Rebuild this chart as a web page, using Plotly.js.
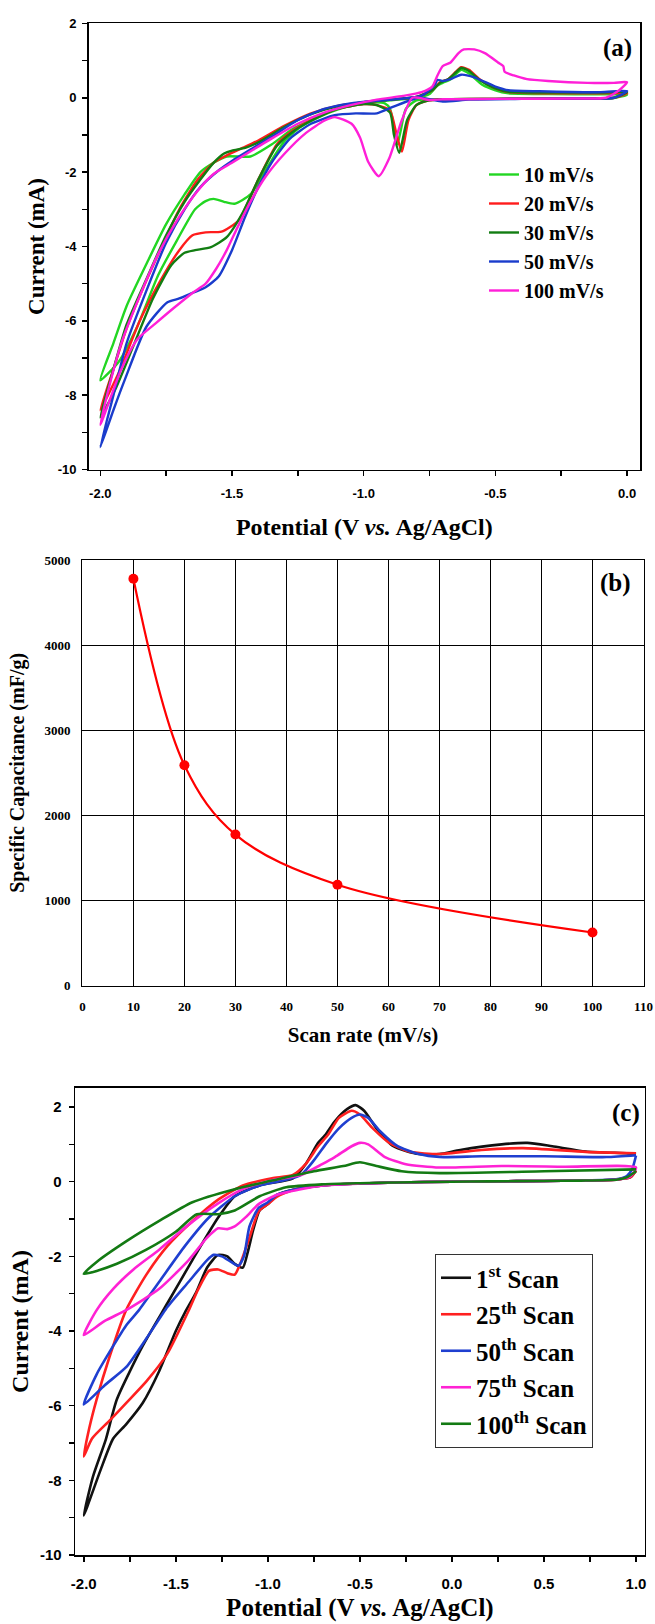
<!DOCTYPE html>
<html>
<head>
<meta charset="utf-8">
<script src="https://cdn.plot.ly/plotly-3.0.1.min.js"></script>
<style>html,body{margin:0;padding:0;background:#fff;}#chart{width:655px;height:1624px;}</style>
</head>
<body>
<div id="chart"></div>
<script>
// ---------------- Panel (a): CV at different scan rates ----------------
const aNames = ['10 mV/s', '20 mV/s', '30 mV/s', '50 mV/s', '100 mV/s'];
const aV10 = [0, -0.05, -0.2, -0.4, -0.6, -0.75, -0.8, -0.84, -0.86, -0.872, -0.885, -0.9, -0.92, -1.0, -1.1, -1.17, -1.24, -1.3, -1.36, -1.43, -1.49, -1.53, -1.57, -1.6, -1.64, -1.71, -1.78, -1.86, -1.93, -2.0,
  -1.95, -1.9, -1.82, -1.75, -1.68, -1.62, -1.57, -1.52, -1.43, -1.35, -1.27, -1.2, -1.1, -1.0, -0.9, -0.8, -0.75, -0.72, -0.7, -0.67, -0.63, -0.6, -0.55, -0.5, -0.45, -0.3, -0.1, 0];
const aI10 = [0.08, -0.01, -0.02, -0.03, -0.03, -0.05, -0.07, -0.3, -0.9, -1.25, -0.8, -0.3, -0.15, -0.13, -0.32, -0.52, -0.79, -1.16, -1.8, -2.6, -2.85, -2.8, -2.72, -2.78, -3.0, -3.85, -4.77, -6.16, -7.1, -7.6,
  -6.6, -5.6, -4.4, -3.4, -2.6, -2.0, -1.75, -1.58, -1.58, -1.26, -0.84, -0.6, -0.3, -0.16, -0.07, 0.0, 0.1, 0.33, 0.4, 0.5, 0.75, 0.65, 0.35, 0.2, 0.12, 0.1, 0.09, 0.08];
const aV20 = [0, -0.05, -0.2, -0.5, -0.7, -0.76, -0.8, -0.83, -0.855, -0.875, -0.9, -0.95, -1.0, -1.1, -1.2, -1.27, -1.33, -1.4, -1.475, -1.54, -1.6, -1.65, -1.7, -1.77, -1.85, -1.93, -2.0,
  -1.95, -1.9, -1.83, -1.76, -1.7, -1.63, -1.57, -1.52, -1.46, -1.4, -1.3, -1.2, -1.1, -1.0, -0.9, -0.8, -0.74, -0.71, -0.68, -0.65, -0.63, -0.6, -0.56, -0.5, -0.45, -0.3, -0.1, 0];
const aI20 = [0.12, 0.0, -0.02, -0.03, -0.04, -0.08, -0.2, -0.6, -1.45, -1.0, -0.35, -0.2, -0.17, -0.3, -0.6, -0.89, -1.26, -2.2, -3.3, -3.6, -3.62, -3.7, -4.1, -4.9, -6.0, -7.4, -8.4,
  -7.3, -6.2, -5.0, -3.9, -3.0, -2.2, -1.75, -1.55, -1.35, -1.15, -0.75, -0.42, -0.22, -0.12, -0.05, 0.02, 0.2, 0.42, 0.5, 0.7, 0.82, 0.75, 0.5, 0.25, 0.15, 0.12, 0.12, 0.12];
const aV30 = [0, -0.05, -0.2, -0.5, -0.7, -0.76, -0.8, -0.835, -0.865, -0.885, -0.9, -0.95, -1.0, -1.1, -1.2, -1.27, -1.33, -1.4, -1.46, -1.52, -1.58, -1.64, -1.68, -1.73, -1.8, -1.87, -1.94, -2.0,
  -1.95, -1.9, -1.82, -1.75, -1.68, -1.62, -1.57, -1.53, -1.5, -1.45, -1.4, -1.3, -1.2, -1.1, -1.0, -0.9, -0.8, -0.74, -0.71, -0.68, -0.65, -0.63, -0.6, -0.56, -0.5, -0.45, -0.3, -0.1, 0];
const aI30 = [0.15, 0.0, -0.02, -0.03, -0.04, -0.08, -0.2, -0.6, -1.48, -1.0, -0.4, -0.2, -0.17, -0.3, -0.62, -0.92, -1.3, -2.2, -3.1, -3.75, -4.02, -4.1, -4.17, -4.5, -5.4, -6.6, -7.8, -8.6,
  -7.3, -6.1, -4.8, -3.7, -2.8, -2.2, -1.75, -1.5, -1.42, -1.35, -1.2, -0.78, -0.44, -0.23, -0.12, -0.05, 0.02, 0.2, 0.4, 0.5, 0.68, 0.8, 0.72, 0.48, 0.25, 0.16, 0.14, 0.14, 0.15];
const aV50 = [0, -0.05, -0.2, -0.4, -0.6, -0.7, -0.79, -0.887, -0.95, -1.03, -1.11, -1.2, -1.28, -1.35, -1.4, -1.45, -1.5, -1.55, -1.6, -1.65, -1.7, -1.745, -1.825, -1.905, -1.95, -2.0,
  -1.95, -1.9, -1.82, -1.75, -1.68, -1.62, -1.55, -1.5, -1.42, -1.35, -1.25, -1.15, -1.05, -0.95, -0.85, -0.78, -0.73, -0.72, -0.7, -0.67, -0.63, -0.58, -0.5, -0.45, -0.3, -0.1, 0];
const aI50 = [0.18, 0.0, -0.02, -0.03, -0.05, -0.1, -0.0, -0.24, -0.42, -0.42, -0.47, -0.7, -1.1, -1.75, -2.4, -3.2, -4.1, -4.8, -5.1, -5.25, -5.4, -5.5, -6.16, -7.55, -8.4, -9.4,
  -8.0, -6.6, -5.1, -3.9, -3.0, -2.4, -1.95, -1.7, -1.35, -1.05, -0.6, -0.3, -0.15, -0.08, -0.02, 0.05, 0.35, 0.48, 0.45, 0.5, 0.62, 0.55, 0.3, 0.2, 0.17, 0.15, 0.18];
const aV100 = [0, -0.03, -0.08, -0.2, -0.5, -0.7, -0.75, -0.815, -0.855, -0.903, -0.943, -0.983, -1.014, -1.046, -1.11, -1.15, -1.22, -1.3, -1.37, -1.43, -1.48, -1.52, -1.56, -1.6, -1.65, -1.72, -1.79, -1.86, -1.92, -2.0,
  -1.96, -1.92, -1.86, -1.78, -1.7, -1.63, -1.57, -1.5, -1.42, -1.35, -1.25, -1.15, -1.05, -0.95, -0.85, -0.78, -0.74, -0.72, -0.7, -0.67, -0.64, -0.62, -0.58, -0.54, -0.49, -0.47, -0.465, -0.43, -0.38, -0.3, -0.15, -0.05, 0];
const aI100 = [0.42, 0.2, 0.0, -0.02, -0.03, -0.04, -0.06, -0.0, -0.6, -1.63, -2.11, -1.72, -1.07, -0.7, -0.52, -0.62, -0.95, -1.5, -2.1, -2.8, -3.5, -4.1, -4.6, -5.0, -5.25, -5.65, -6.07, -6.5, -7.3, -8.8,
  -7.6, -6.6, -5.5, -4.2, -3.2, -2.5, -2.05, -1.75, -1.4, -1.1, -0.7, -0.4, -0.2, -0.05, 0.05, 0.15, 0.3, 0.6, 0.85, 0.95, 1.2, 1.3, 1.3, 1.2, 0.95, 0.85, 0.7, 0.6, 0.5, 0.45, 0.4, 0.4, 0.42];
const aColors = ['#22d622', '#ff1c1c', '#127d12', '#1a3ccc', '#ff1fd8'];
const aXTicks = [-2.0, -1.5, -1.0, -0.5, 0.0];
const aXTickText = ['-2.0', '-1.5', '-1.0', '-0.5', '0.0'];
const aYTicks = [-10, -8, -6, -4, -2, 0, 2];
const aYTickText = ['-10', '-8', '-6', '-4', '-2', '0', '2'];

// ---------------- Panel (b): specific capacitance ----------------
const bScanRate = [10, 20, 30, 50, 100];
const bCapacitance = [4780, 2590, 1775, 1185, 625];

// ---------------- Panel (c): cycling ----------------
const cNames = ['1<sup>st</sup> Scan', '25<sup>th</sup> Scan', '50<sup>th</sup> Scan', '75<sup>th</sup> Scan', '100<sup>th</sup> Scan'];
const cV1 = [1.0, 0.97, 0.9, 0.7, 0.5, 0.2, 0.0, -0.3, -0.5, -0.7, -0.85, -0.95, -1.0, -1.045, -1.08, -1.11, -1.136, -1.18, -1.22, -1.27, -1.33, -1.39, -1.45, -1.5, -1.59, -1.68, -1.77, -1.84, -1.91, -2.0,
  -1.95, -1.88, -1.82, -1.68, -1.545, -1.41, -1.27, -1.18, -1.045, -0.864, -0.795, -0.727, -0.69, -0.636, -0.568, -0.523, -0.477, -0.41, -0.318, -0.18, -0.068, 0.045, 0.27, 0.41, 0.545, 0.727, 0.955, 1.0];
const cI1 = [0.3, 0.12, 0.06, 0.03, 0.02, 0.01, 0.0, -0.02, -0.05, -0.1, -0.2, -0.35, -0.6, -0.77, -1.3, -1.9, -2.3, -2.2, -2.0, -1.96, -2.3, -2.97, -3.5, -4.0, -5.07, -5.93, -6.5, -6.88, -7.74, -8.94,
  -7.9, -6.9, -5.83, -4.4, -3.25, -2.1, -0.96, -0.39, -0.1, 0.09, 0.47, 1.04, 1.24, 1.62, 1.95, 2.05, 1.9, 1.43, 0.95, 0.74, 0.74, 0.85, 1.0, 1.04, 0.95, 0.81, 0.76, 0.74];
const cV25 = [1.0, 0.97, 0.9, 0.7, 0.5, 0.2, 0.0, -0.3, -0.5, -0.7, -0.85, -0.95, -1.0, -1.05, -1.1, -1.15, -1.18, -1.22, -1.27, -1.32, -1.38, -1.43, -1.545, -1.66, -1.77, -1.86, -1.955, -2.0,
  -1.97, -1.93, -1.86, -1.77, -1.66, -1.545, -1.41, -1.27, -1.136, -0.977, -0.864, -0.795, -0.727, -0.67, -0.614, -0.545, -0.5, -0.43, -0.34, -0.227, -0.068, 0.16, 0.386, 0.727, 1.0];
const cI25 = [0.3, 0.12, 0.06, 0.03, 0.02, 0.01, 0.0, -0.02, -0.05, -0.1, -0.2, -0.4, -0.6, -0.8, -1.5, -2.2, -2.49, -2.45, -2.35, -2.39, -2.9, -3.45, -4.6, -5.35, -5.93, -6.4, -6.88, -7.36,
  -6.6, -5.83, -4.69, -3.44, -2.49, -1.72, -1.06, -0.48, -0.1, 0.09, 0.18, 0.47, 0.95, 1.28, 1.71, 1.9, 1.8, 1.43, 1.04, 0.8, 0.74, 0.85, 0.9, 0.8, 0.76];
const cV50 = [1.0, 0.98, 0.95, 0.9, 0.7, 0.5, 0.2, 0.0, -0.3, -0.5, -0.7, -0.85, -0.95, -1.0, -1.05, -1.1, -1.13, -1.16, -1.2, -1.25, -1.295, -1.33, -1.43, -1.545, -1.66, -1.77, -1.886, -2.0,
  -1.93, -1.84, -1.77, -1.7, -1.59, -1.45, -1.32, -1.18, -1.045, -0.91, -0.82, -0.75, -0.68, -0.614, -0.545, -0.5, -0.455, -0.386, -0.295, -0.18, -0.068, 0.16, 0.5, 0.84, 1.0];
const cI50 = [0.7, 0.35, 0.15, 0.07, 0.03, 0.02, 0.01, 0.0, -0.02, -0.05, -0.1, -0.2, -0.35, -0.55, -0.7, -1.2, -2.0, -2.25, -2.15, -2.0, -1.96, -2.1, -2.68, -3.35, -4.2, -4.97, -5.45, -5.97,
  -5.16, -4.4, -3.85, -3.44, -2.68, -1.72, -0.96, -0.39, -0.1, 0.04, 0.18, 0.57, 1.04, 1.43, 1.71, 1.8, 1.71, 1.33, 0.95, 0.74, 0.66, 0.68, 0.68, 0.66, 0.71];
const cV75 = [1.0, 0.97, 0.9, 0.7, 0.5, 0.2, 0.0, -0.3, -0.5, -0.7, -0.8, -0.95, -1.05, -1.12, -1.18, -1.22, -1.27, -1.33, -1.43, -1.59, -1.77, -1.886, -2.0,
  -1.93, -1.84, -1.73, -1.59, -1.43, -1.27, -1.136, -0.977, -0.82, -0.705, -0.636, -0.545, -0.5, -0.455, -0.364, -0.25, -0.068, 0.27, 0.61, 1.0];
const cI75 = [0.38, 0.15, 0.06, 0.03, 0.02, 0.01, 0.0, -0.02, -0.05, -0.1, -0.18, -0.35, -0.6, -0.95, -1.2, -1.27, -1.25, -1.5, -2.1, -2.87, -3.44, -3.73, -4.11,
  -3.44, -2.87, -2.35, -1.82, -1.15, -0.58, -0.2, 0.04, 0.18, 0.47, 0.66, 0.95, 1.04, 1.0, 0.66, 0.47, 0.38, 0.42, 0.4, 0.38];
const cV100 = [1.0, 0.95, 0.9, 0.7, 0.5, 0.2, 0.0, -0.3, -0.5, -0.7, -0.9, -1.045, -1.18, -1.27, -1.386, -1.5, -1.66, -1.82, -1.93, -2.0,
  -1.93, -1.77, -1.59, -1.41, -1.18, -0.977, -0.75, -0.59, -0.5, -0.41, -0.273, -0.068, 0.5, 1.0];
const cI100 = [0.28, 0.12, 0.06, 0.03, 0.02, 0.01, 0.0, -0.02, -0.04, -0.07, -0.15, -0.39, -0.77, -0.87, -0.87, -1.34, -1.82, -2.2, -2.39, -2.47,
  -2.15, -1.6, -1.05, -0.55, -0.2, 0.03, 0.28, 0.42, 0.52, 0.42, 0.28, 0.23, 0.28, 0.33];
const cColors = ['#111111', '#ff2020', '#1f3fd0', '#ff22d4', '#137a13'];
const cXTicks = [-2.0, -1.5, -1.0, -0.5, 0.0, 0.5, 1.0];
const cXTickText = ['-2.0', '-1.5', '-1.0', '-0.5', '0.0', '0.5', '1.0'];
const cYTicks = [-10, -8, -6, -4, -2, 0, 2];
const cYTickText = ['-10', '-8', '-6', '-4', '-2', '0', '2'];

// ---------------- Build ----------------
const W = 655, H = 1624;
const serif = '"Liberation Serif", "Times New Roman", serif';
const sans = '"Liberation Sans", Arial, sans-serif';
const fx = p => p / W;
const fy = p => 1 - p / H;

const aData = [[aV10, aI10], [aV20, aI20], [aV30, aI30], [aV50, aI50], [aV100, aI100]];
const cData = [[cV1, cI1], [cV25, cI25], [cV50, cI50], [cV75, cI75], [cV100, cI100]];

const traces = [];
aData.forEach((d, i) => traces.push({
  x: d[0], y: d[1], type: 'scatter', mode: 'lines', name: aNames[i],
  xaxis: 'x', yaxis: 'y', legend: 'legend', legendgroup: 'a' + i,
  line: {color: aColors[i], width: 2.4, shape: 'spline', smoothing: 0.6}
}));
traces.push({
  x: bScanRate, y: bCapacitance, type: 'scatter', mode: 'lines+markers', name: 'Specific capacitance',
  xaxis: 'x2', yaxis: 'y2', showlegend: false,
  line: {color: '#ff0000', width: 2.2, shape: 'spline', smoothing: 1},
  marker: {color: '#ff0000', size: 10}
});
cData.forEach((d, i) => traces.push({
  x: d[0], y: d[1], type: 'scatter', mode: 'lines', name: cNames[i],
  xaxis: 'x3', yaxis: 'y3', legend: 'legend2', legendgroup: 'c' + i,
  line: {color: cColors[i], width: 2.6, shape: 'spline', smoothing: 0.6}
}));

const boxAxis = {
  showline: true, mirror: true, linecolor: '#000', linewidth: 1.6,
  showgrid: false, zeroline: false, automargin: false,
  ticks: 'outside', ticklen: 5, tickwidth: 1.5, tickcolor: '#000'
};

const layout = {
  width: W, height: H,
  margin: {l: 0, r: 0, t: 0, b: 0},
  paper_bgcolor: '#fff', plot_bgcolor: '#fff',
  showlegend: true,
  // panel (a)
  xaxis: Object.assign({}, boxAxis, {
    domain: [fx(88.7), fx(640)], anchor: 'y', range: [-2.044, 0.049],
    tickmode: 'array', tickvals: aXTicks, ticktext: aXTickText,
    minor: {ticks: 'outside', dtick: 0.25, tick0: 0, ticklen: 5, tickwidth: 1.5, tickcolor: '#000'},
    tickfont: {family: sans, size: 13, color: '#000', weight: 'bold'}, ticklabelstandoff: 6,
    title: {text: 'Potential (V <i>vs.</i> Ag/AgCl)', font: {family: serif, size: 24, color: '#000', weight: 'bold'}, standoff: 18}
  }),
  yaxis: Object.assign({}, boxAxis, {
    domain: [fy(469.5), fy(23.4)], anchor: 'x', range: [-10, 2],
    tickmode: 'array', tickvals: aYTicks, ticktext: aYTickText,
    minor: {ticks: 'outside', dtick: 1, tick0: 0, ticklen: 5, tickwidth: 1.5, tickcolor: '#000'},
    tickfont: {family: sans, size: 13, color: '#000', weight: 'bold'}, ticklabelstandoff: 3,
    title: {text: 'Current (mA)', font: {family: serif, size: 23, color: '#000', weight: 'bold'}, standoff: 6}
  }),
  // panel (b)
  xaxis2: {
    domain: [fx(82.4), fx(643.5)], anchor: 'y2', range: [0, 110], dtick: 10, tick0: 0,
    showline: true, mirror: true, linecolor: '#000', linewidth: 1.2,
    showgrid: true, gridcolor: '#000', gridwidth: 1, zeroline: false, ticks: '', automargin: false,
    tickfont: {family: serif, size: 13, color: '#000', weight: 'bold'}, ticklabelstandoff: 8,
    title: {text: 'Scan rate (mV/s)', font: {family: serif, size: 21, color: '#000', weight: 'bold'}, standoff: 14}
  },
  yaxis2: {
    domain: [fy(985.7), fy(560)], anchor: 'x2', range: [0, 5000], dtick: 1000, tick0: 0,
    showline: true, mirror: true, linecolor: '#000', linewidth: 1.2,
    showgrid: true, gridcolor: '#000', gridwidth: 1, zeroline: false, ticks: '', automargin: false,
    tickfont: {family: serif, size: 13, color: '#000', weight: 'bold'}, ticklabelstandoff: 8,
    title: {text: 'Specific Capacitance (mF/g)', font: {family: serif, size: 20, color: '#000', weight: 'bold'}, standoff: 14}
  },
  // panel (c)
  xaxis3: Object.assign({}, boxAxis, {
    domain: [fx(75.3), fx(644.5)], anchor: 'y3', range: [-2.046, 1.046],
    tickmode: 'array', tickvals: cXTicks, ticktext: cXTickText,
    minor: {ticks: 'outside', dtick: 0.25, tick0: 0, ticklen: 5, tickwidth: 1.5, tickcolor: '#000'},
    tickfont: {family: sans, size: 15, color: '#000', weight: 'bold'}, ticklabelstandoff: 9,
    title: {text: 'Potential (V <i>vs.</i> Ag/AgCl)', font: {family: serif, size: 25, color: '#000', weight: 'bold'}, standoff: 8}
  }),
  yaxis3: Object.assign({}, boxAxis, {
    domain: [fy(1555), fy(1088)], anchor: 'x3', range: [-10, 2.51],
    tickmode: 'array', tickvals: cYTicks, ticktext: cYTickText,
    minor: {ticks: 'outside', dtick: 1, tick0: 0, ticklen: 5, tickwidth: 1.5, tickcolor: '#000'},
    tickfont: {family: sans, size: 15, color: '#000', weight: 'bold'}, ticklabelstandoff: 4,
    title: {text: 'Current (mA)', font: {family: serif, size: 24, color: '#000', weight: 'bold'}, standoff: 4}
  }),
  legend: {
    x: fx(484), y: fy(155), xanchor: 'left', yanchor: 'top',
    bgcolor: 'rgba(0,0,0,0)', borderwidth: 0, traceorder: 'grouped', tracegroupgap: 0,
    font: {family: serif, size: 20, color: '#000', weight: 'bold'}
  },
  legend2: {
    x: fx(435), y: fy(1254), xanchor: 'left', yanchor: 'top',
    bgcolor: '#fff', bordercolor: '#333', borderwidth: 1, traceorder: 'grouped', tracegroupgap: 1,
    font: {family: serif, size: 25, color: '#000', weight: 'bold'}
  },
  annotations: [
    {text: '(a)', xref: 'paper', yref: 'paper', x: fx(617), y: fy(48), xanchor: 'center', yanchor: 'middle', showarrow: false,
     font: {family: serif, size: 25, color: '#000', weight: 'bold'}},
    {text: '(b)', xref: 'paper', yref: 'paper', x: fx(615), y: fy(583), xanchor: 'center', yanchor: 'middle', showarrow: false,
     font: {family: serif, size: 25, color: '#000', weight: 'bold'}},
    {text: '(c)', xref: 'paper', yref: 'paper', x: fx(626), y: fy(1113), xanchor: 'center', yanchor: 'middle', showarrow: false,
     font: {family: serif, size: 25, color: '#000', weight: 'bold'}}
  ]
};

Plotly.newPlot('chart', traces, layout, {staticPlot: true, displayModeBar: false});
</script>
</body>
</html>
